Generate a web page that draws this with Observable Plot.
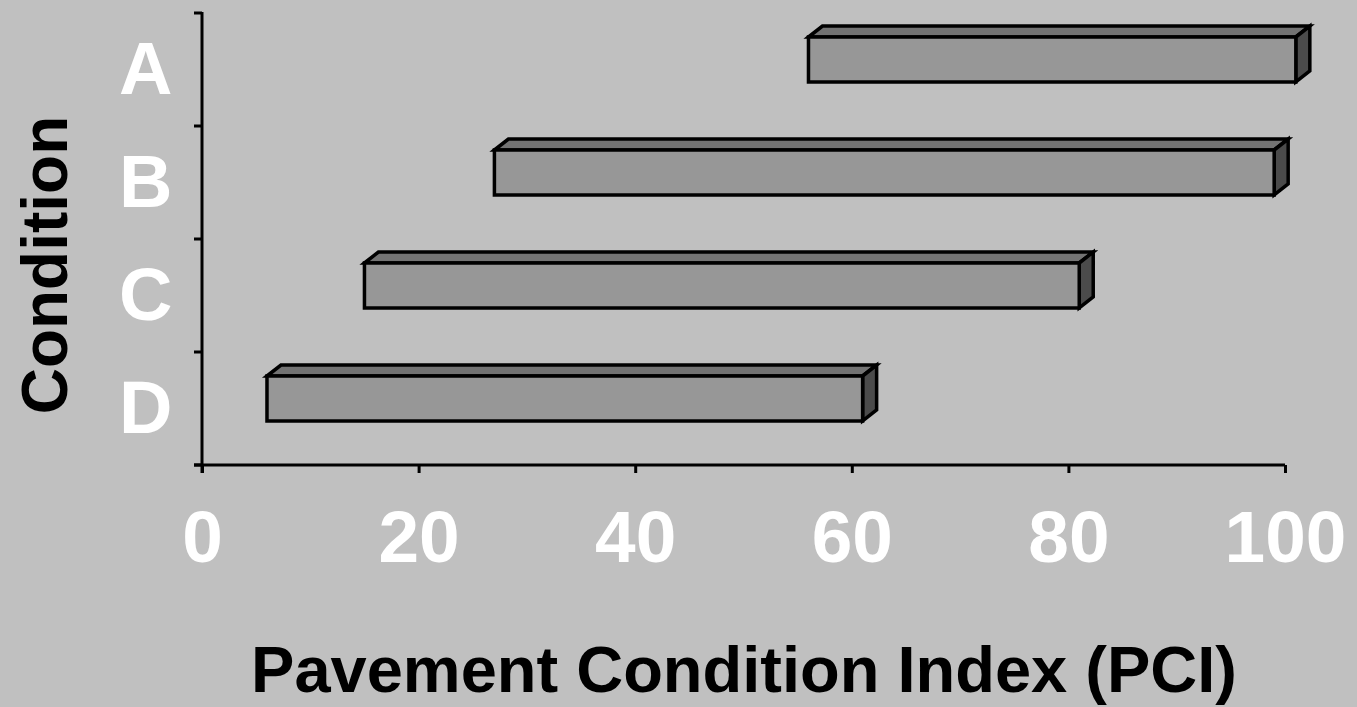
<!DOCTYPE html>
<html>
<head>
<meta charset="utf-8">
<script src="https://cdn.jsdelivr.net/npm/d3@7"></script>
<script src="https://cdn.jsdelivr.net/npm/@observablehq/plot@0.6"></script>
<style>
  html, body { margin: 0; padding: 0; background: #c0c0c0; overflow: hidden; }
  #chart { width: 1357px; height: 707px; }
</style>
</head>
<body>
<div id="chart"></div>
<script>
// ---- data ----
const categories = ["A", "B", "C", "D"];
const pciFrom = [56, 27, 15, 6];
const pciTo = [101, 99, 81, 61];
const xTicks = [0, 20, 40, 60, 80, 100];
const xLabel = "Pavement Condition Index (PCI)";
const yLabel = "Condition";

const rows = categories.map((c, i) => ({condition: c, from: pciFrom[i], to: pciTo[i]}));

// ---- style ----
const BG = "#c0c0c0";
const FRONT = "#979797";
const TOP = "#737373";
const SIDE = "#4b4b4b";
const DEPTH_X = 14, DEPTH_Y = 11;
const FONT = "'Liberation Sans', Arial, Helvetica, sans-serif";

// 3D bar: draw top and side faces behind Plot's own front rects
function bar3d(index, scales, values, dimensions, context, next) {
  const g = next(index, scales, values, dimensions, context);
  const rects = Array.from(g.querySelectorAll("rect"));
  const faces = d3.create("svg:g")
    .attr("stroke", "black")
    .attr("stroke-width", 3.5)
    .attr("stroke-linejoin", "miter");
  for (const r of rects) {
    const x = +r.getAttribute("x"), y = +r.getAttribute("y");
    const w = +r.getAttribute("width"), h = +r.getAttribute("height");
    const x2 = x + w, y2 = y + h;
    faces.append("path")
      .attr("fill", TOP)
      .attr("d", `M${x},${y}L${x + DEPTH_X},${y - DEPTH_Y}L${x2 + DEPTH_X},${y - DEPTH_Y}L${x2},${y}Z`);
    faces.append("path")
      .attr("fill", SIDE)
      .attr("d", `M${x2},${y}L${x2 + DEPTH_X},${y - DEPTH_Y}L${x2 + DEPTH_X},${y2 - DEPTH_Y}L${x2},${y2}Z`);
  }
  g.insertBefore(faces.node(), g.firstChild);
  return g;
}

// axis lines and between-category ticks (Excel style)
function axisFrame(index, scales, values, dimensions) {
  const {height, marginTop, marginBottom} = dimensions;
  const x = scales.x, y = scales.y;
  const x0 = x(xTicks[0]);
  const xEnd = x(xTicks[xTicks.length - 1]);
  const yTop = marginTop, yBottom = height - marginBottom;
  const bw = typeof y.bandwidth === "function" ? y.bandwidth() : (yBottom - yTop) / categories.length;
  const bounds = categories.map(c => y(c)).concat([y(categories[categories.length - 1]) + bw]);
  const g = d3.create("svg:g").attr("stroke", "black").attr("stroke-width", 3).attr("fill", "none");
  g.append("line").attr("x1", x0).attr("x2", x0).attr("y1", yTop).attr("y2", yBottom + 8);
  g.append("line").attr("x1", x0 - 8).attr("x2", xEnd).attr("y1", yBottom).attr("y2", yBottom);
  for (const b of bounds) {
    g.append("line").attr("x1", x0 - 8).attr("x2", x0).attr("y1", b).attr("y2", b);
  }
  return g.node();
}

const chart = Plot.plot({
  width: 1357,
  height: 707,
  marginLeft: 202,
  marginRight: 72,
  marginTop: 12,
  marginBottom: 242,
  style: {background: BG, fontFamily: FONT, color: "black", overflow: "visible"},
  x: {domain: [0, 100]},
  y: {domain: categories, padding: 0},
  marks: [
    Plot.barX(rows, {
      x1: "from", x2: "to", y: "condition",
      insetTop: 24, insetBottom: 44,
      fill: FRONT, stroke: "black", strokeWidth: 3.5,
      render: bar3d
    }),
    Plot.ruleX([0], {render: axisFrame}),
    Plot.axisX({
      ticks: xTicks, tickSize: 8, tickPadding: 37,
      fontSize: 73, fontWeight: "bold", fill: "white",
      stroke: "black", strokeWidth: 3, label: null
    }),
    Plot.axisY({
      tickSize: 0, tickPadding: 30,
      fontSize: 74, fontWeight: "bold", fill: "white", label: null
    }),
    Plot.text([xLabel], {
      frameAnchor: "bottom", dy: 226, textAnchor: "middle",
      fontSize: 65, fontWeight: "bold", fill: "black", text: d => d
    }),
    Plot.text([yLabel], {
      frameAnchor: "left", rotate: -90, dx: -156, dy: 26,
      textAnchor: "middle", lineAnchor: "middle",
      fontSize: 64, fontWeight: "bold", fill: "black", text: d => d
    })
  ]
});

document.getElementById("chart").appendChild(chart);
</script>
</body>
</html>
